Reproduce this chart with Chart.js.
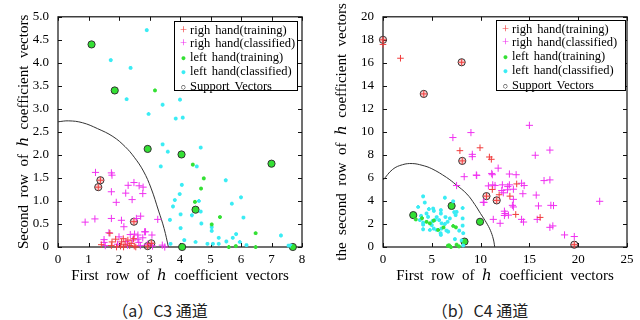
<!DOCTYPE html>
<html>
<head>
<meta charset="utf-8">
<script src="https://cdn.jsdelivr.net/npm/chart.js@4.4.1/dist/chart.umd.min.js"></script>
<style>
  body { margin: 0; width: 640px; height: 320px; background: #fff; position: relative; overflow: hidden; }
  .box { position: absolute; top: 0; width: 320px; height: 290px; }
  .cap { position: absolute; top: 298px; width: 320px; text-align: center; font: 16px "Noto Sans CJK SC"; color: #222; }
  .leg { position: absolute; border: 1.5px solid #000; background: #fff; box-sizing: border-box;
         font: 12.5px "Liberation Serif", serif; line-height: 13.4px; padding: 2px 0 0 3px; color: #000;
         white-space: nowrap; word-spacing: 2px; }
  .mk { display: inline-block; width: 11px; text-align: center; margin-right: 1px; }
</style>
</head>
<body>
<div class="box" style="left:0"><canvas id="c3"></canvas></div>
<div class="box" style="left:320px"><canvas id="c4"></canvas></div>
<div class="leg" id="leg3" style="left:174px;top:21px;width:124px;height:70px"></div>
<div class="leg" id="leg4" style="left:496px;top:20px;width:130px;height:71px"></div>
<div class="cap" style="left:0">（a）C3 通道</div>
<div class="cap" style="left:320px">（b）C4 通道</div>
<script>
// ── Series names ─────────────────────────────────────────────
const seriesNames = ["righ hand(training)", "righ hand(classified)", "left hand(training)", "left hand(classified)", "Support Vectors"];

// ── (a) C3 channel ───────────────────────────────────────────
const c3RightTrain = [[1.39,1.45],[1.32,1.30],[2.49,0.55],[3.06,0.08],[2.94,0.02],[1.77,0.11],[1.89,0.17],[2.14,0.18],
  [2.29,0.15],[2.48,0.18],[1.42,0.05],[1.75,0.03],[1.92,0.0],[2.05,0.02],[2.15,0.0],[2.35,0.03],[2.5,0.02],[2.55,0.0],
  [1.70,0.30],[2.08,0.11],[2.2,0.06],[2.4,0.08]];
const c3RightCls = [[1.23,1.62],[1.75,1.61],[1.77,1.56],[2.30,1.34],[2.49,1.40],[2.66,1.33],[2.79,1.30],[1.75,1.20],
  [2.22,1.17],[2.78,1.16],[2.43,1.03],[1.91,0.97],[0.89,0.54],[1.21,0.61],[1.75,0.62],[2.08,0.58],[2.57,0.62],[2.71,0.67],
  [2.16,0.44],[2.87,0.33],[3.27,0.60],[1.67,0.31],[2.37,0.27],[2.51,0.28],[2.62,0.26],[2.84,0.33],[3.08,0.26],[1.51,0.16],
  [1.51,0.10],[2.0,0.22],[2.23,0.12],[2.45,0.15],[2.65,0.10],[2.93,0.06],[3.42,0.04],[3.5,0.0],[1.55,0.03],[1.95,0.06],
  [2.28,0.04],[2.7,0.03],[3.1,0.02],[2.62,0.17],[2.78,0.2]];
const c3LeftTrain = [[1.1,4.4],[1.86,3.4],[2.94,2.13],[4.05,2.01],[7.0,1.81],[4.51,0.81],[4.07,0.0],[7.7,0.0],[3.18,3.40],
  [4.42,1.79],[4.78,1.49],[4.69,1.27],[4.49,0.98],[5.31,0.65],[5.04,0.49],[6.48,0.30],[5.6,0.0],[5.83,0.02],[6.48,0.0]];
const c3LeftCls = [[2.91,4.71],[1.73,4.06],[2.38,3.89],[2.25,3.21],[3.43,3.09],[4.0,3.2],[2.97,2.89],[3.86,2.79],[4.09,2.81],
  [3.43,2.23],[3.6,2.07],[4.68,2.16],[3.37,1.75],[4.55,1.75],[5.5,1.45],[4.06,1.35],[3.99,1.15],[6.0,1.08],[3.83,1.02],
  [4.62,1.0],[5.7,0.94],[3.77,0.88],[4.68,0.77],[4.02,0.71],[4.39,0.69],[6.08,0.64],[3.67,0.59],[4.70,0.51],[5.04,0.43],
  [5.04,0.35],[4.02,0.41],[5.84,0.28],[7.31,0.25],[5.73,0.2],[5.27,0.2],[4.14,0.15],[4.51,0.11],[5.96,0.11],[5.52,0.12],
  [3.69,0.07],[4.9,0.07],[5.08,0.07],[5.27,0.07],[6.18,0.04],[7.56,0.03],[7.63,0.03]];
const c3SvLeft = [[1.1,4.4],[1.86,3.4],[2.94,2.13],[4.05,2.01],[7.0,1.81],[4.51,0.81],[4.07,0.0],[7.7,0.0]];
const c3SvRight = [[1.39,1.45],[1.32,1.30],[2.49,0.55],[3.06,0.08],[2.94,0.02]];
const c3Boundary = [[0,2.72],[0.35,2.74],[0.8,2.70],[1.3,2.57],[1.8,2.40],[2.2,2.18],[2.5,1.95],[2.8,1.65],[3.05,1.28],
  [3.3,0.78],[3.48,0.40],[3.62,0.0]];
const c3XTicks = [0, 8, 1];
const c3YTicks = [0, 5, 0.5];

// ── (b) C4 channel ───────────────────────────────────────────
const c4RightTrain = [[0,18.0],[0,17.6],[1.79,16.4],[8.06,16.05],[4.18,13.3],[7.88,8.37],[9.94,8.62],[10.9,7.82],[11.1,7.62],
  [8.12,7.48],[13.7,5.48],[11.2,5.0],[10.6,4.42],[11.9,4.54],[11.65,4.05],[13.0,4.42],[13.6,2.83],[16.1,2.57],[19.6,0.2]];
const c4RightCls = [[15.0,10.57],[7.16,9.51],[9.01,9.94],[9.15,8.05],[9.15,7.85],[15.6,7.97],[17.1,8.42],[11.8,6.85],[9.6,6.22],
  [11.14,6.39],[11.2,6.28],[12.95,6.34],[13.64,6.28],[16.5,5.77],[17.1,5.83],[10.8,5.31],[11.24,5.4],[11.48,5.34],[12.23,5.4],
  [12.79,5.25],[12.95,5.4],[14.2,5.54],[14.46,5.34],[12.17,4.91],[12.33,4.71],[12.75,4.97],[13.36,5.02],[14.33,4.63],[15.7,4.51],
  [13.36,4.14],[10.35,3.88],[22.2,3.97],[13.26,3.62],[13.36,3.48],[15.93,3.57],[17.2,3.62],[17.47,3.6],[12.44,3.11],[12.5,2.91],
  [12.85,2.77],[12.44,2.74],[11.3,2.4],[14.2,2.4],[14.4,2.17],[12.0,2.06],[15.8,2.4],[17.1,1.71],[17.4,1.83],[18.6,1.05],
  [19.6,0.91],[8.32,6.11],[7.54,5.34],[9.56,6.25],[10.28,3.88]];
const c4LeftTrain = [[7.03,3.57],[3.1,2.77],[9.94,2.19],[8.35,0.47],[3.36,2.4],[4.46,2.19],[4.8,2.06],[5.65,1.48],[7.19,1.83],
  [7.47,1.71],[6.78,0.14],[6.96,0.0],[7.78,0.05],[6.65,0.11],[7.54,0.2],[4.0,2.5],[5.2,2.3],[6.2,1.7]];
const c4LeftCls = [[4.11,4.40],[6.34,4.28],[3.6,3.48],[4.28,3.86],[5.14,3.34],[5.21,3.14],[5.93,3.2],[5.93,2.91],[7.54,3.05],
  [7.44,2.77],[8.16,2.48],[4.46,2.91],[4.62,2.62],[3.77,2.34],[4.11,2.11],[4.11,1.94],[5.08,2.25],[5.31,2.34],[5.75,2.34],
  [6.0,2.06],[6.34,2.0],[6.62,2.19],[6.85,2.48],[4.11,1.54],[4.8,1.48],[5.2,1.6],[5.5,1.48],[5.98,1.6],[6.5,1.43],[6.68,1.34],
  [5.93,1.05],[7.81,1.42],[8.06,0.57],[7.19,3.97],[8.16,3.39],[7.3,3.03],[8.16,1.86],[8.22,1.2],[5.9,1.2],[7.37,0.68],
  [8.22,0.14],[3.9,2.7],[4.7,3.3],[5.5,2.6],[5.0,1.9],[6.4,2.6]];
const c4SvLeft = [[7.03,3.57],[3.1,2.77],[9.94,2.19],[8.35,0.47]];
const c4SvRight = [[0,18.0],[8.06,16.05],[4.18,13.3],[8.12,7.48],[10.6,4.42],[11.65,4.05],[19.6,0.2]];
const c4Boundary = [[0,5.8],[1,6.75],[2,7.15],[3,7.25],[4,7.1],[5,6.8],[6.5,6.05],[7.5,5.4],[8.6,4.6],[9.4,3.7],[10,2.9],
  [10.6,2.1],[11,1.45],[11.3,0.7],[11.45,0.0]];
const c4XTicks = [0, 25, 5];
const c4YTicks = [0, 20, 2];

// ── Styles ───────────────────────────────────────────────────
const FONT = "'Liberation Serif', 'DejaVu Serif', serif";
const RED = "#f03c3c", MAG = "#f032f0", GRN = "#34e034", CYN = "#3aecf4";

const toXY = (pts) => pts.map((p) => ({ x: p[0], y: p[1] }));

// Box frame + inward tick marks on all four sides
const frameTicks = {
  id: "frameTicks",
  beforeDatasetsDraw(chart) {
    const { ctx, chartArea: a, scales: { x, y } } = chart;
    ctx.save();
    ctx.strokeStyle = "#111";
    ctx.lineWidth = 1.2;
    ctx.strokeRect(a.left, a.top, a.right - a.left, a.bottom - a.top);
    ctx.beginPath();
    x.ticks.forEach((t) => {
      const px = Math.round(x.getPixelForValue(t.value)) + 0.5;
      ctx.moveTo(px, a.bottom); ctx.lineTo(px, a.bottom - 4);
      ctx.moveTo(px, a.top);    ctx.lineTo(px, a.top + 4);
    });
    y.ticks.forEach((t) => {
      const py = Math.round(y.getPixelForValue(t.value)) + 0.5;
      ctx.moveTo(a.left, py);  ctx.lineTo(a.left + 4, py);
      ctx.moveTo(a.right, py); ctx.lineTo(a.right - 4, py);
    });
    ctx.lineWidth = 1;
    ctx.stroke();
    ctx.restore();
  },
};

function makeChart(id, d) {
  const svData = toXY(d.svLeft.concat(d.svRight));
  const svFill = d.svLeft.map(() => GRN).concat(d.svRight.map(() => "rgba(240,80,80,0.25)"));
  return new Chart(document.getElementById(id), {
    type: "scatter",
    data: {
      datasets: [
        { label: seriesNames[0], data: toXY(d.rightTrain), pointStyle: "cross", pointRadius: 3.3, borderColor: RED, borderWidth: 1, clip: false },
        { label: seriesNames[1], data: toXY(d.rightCls), pointStyle: "cross", pointRadius: 3.6, borderColor: MAG, borderWidth: 1, clip: false },
        { label: seriesNames[2], data: toXY(d.leftTrain), pointStyle: "star", pointRadius: 1.9, borderColor: GRN, backgroundColor: GRN, borderWidth: 2, clip: false },
        { label: seriesNames[3], data: toXY(d.leftCls), pointStyle: "star", pointRadius: 1.9, borderColor: CYN, backgroundColor: CYN, borderWidth: 2, clip: false },
        { label: seriesNames[4], data: svData, pointStyle: "circle", pointRadius: 3.6, borderColor: "#333", backgroundColor: svFill, borderWidth: 1, clip: false },
        { label: "boundary", data: toXY(d.boundary), showLine: true, pointRadius: 0, borderColor: "#333", borderWidth: 1, tension: 0.4, fill: false },
      ],
    },
    options: {
      responsive: true,
      maintainAspectRatio: false,
      animation: false,
      events: [],
      layout: { padding: d.padding },
      plugins: { legend: { display: false }, tooltip: { enabled: false } },
      scales: {
        x: {
          type: "linear", min: d.xTicks[0], max: d.xTicks[1],
          afterFit: (s) => { s.height = 43; },
          grid: { display: false, drawTicks: false },
          border: { display: false },
          ticks: { stepSize: d.xTicks[2], color: "#000", padding: 5, font: { family: FONT, size: 13 } },
          title: { display: true, text: "First  row  of  ℎ  coefficient  vectors", color: "#000",
                   font: { family: FONT, size: 15 }, padding: { top: 0, bottom: 5 } },
        },
        y: {
          type: "linear", min: d.yTicks[0], max: d.yTicks[1],
          afterFit: (s) => { s.width = d.yWidth; },
          grid: { display: false, drawTicks: false },
          border: { display: false },
          ticks: { stepSize: d.yTicks[2], color: "#000", padding: 9, font: { family: FONT, size: 13 }, callback: d.yFmt },
          title: { display: true, text: d.yTitle, color: "#000",
                   font: { family: FONT, size: 15 }, padding: { top: d.yTitlePad, bottom: 0 } },
        },
      },
    },
    plugins: [frameTicks],
  });
}

function makeLegend(id) {
  const marks = [
    `<span class="mk" style="color:${RED}">+</span>`,
    `<span class="mk" style="color:${MAG}">+</span>`,
    `<span class="mk" style="color:${GRN};font-size:9px">●</span>`,
    `<span class="mk" style="color:${CYN};font-size:9px">●</span>`,
    `<span class="mk" style="font-size:9px">○</span>`,
  ];
  document.getElementById(id).innerHTML = seriesNames.map((n, i) => `<div>${marks[i]}${n}</div>`).join("");
}

makeChart("c3", {
  rightTrain: c3RightTrain, rightCls: c3RightCls, leftTrain: c3LeftTrain, leftCls: c3LeftCls,
  svLeft: c3SvLeft, svRight: c3SvRight, boundary: c3Boundary, xTicks: c3XTicks, yTicks: c3YTicks,
  padding: { left: 0, right: 18, top: 13, bottom: 0 }, yWidth: 58, yTitlePad: 15,
  yTitle: "Second  row  of  ℎ  coefficient  vectors",
  yFmt: (v) => (v === 0 ? "0" : v.toFixed(1)),
});
makeChart("c4", {
  rightTrain: c4RightTrain, rightCls: c4RightCls, leftTrain: c4LeftTrain, leftCls: c4LeftCls,
  svLeft: c4SvLeft, svRight: c4SvRight, boundary: c4Boundary, xTicks: c4XTicks, yTicks: c4YTicks,
  padding: { left: 0, right: 13, top: 14, bottom: 0 }, yWidth: 63, yTitlePad: 13,
  yTitle: "the  second  row  of  ℎ  coefficient  vectors",
  yFmt: (v) => String(v),
});
makeLegend("leg3");
makeLegend("leg4");
</script>
</body>
</html>
